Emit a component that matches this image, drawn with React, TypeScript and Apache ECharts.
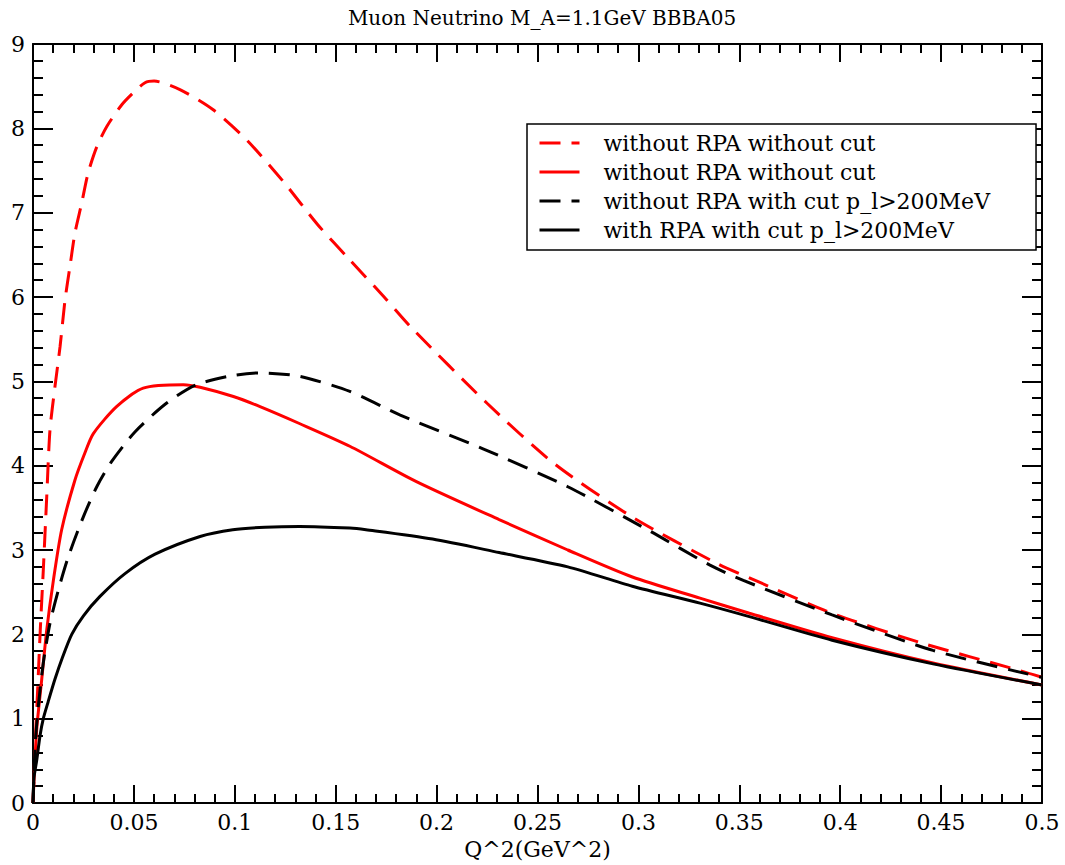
import React, { useEffect, useRef } from "react";
import * as echarts from "echarts";

const TITLE = "Muon Neutrino M_A=1.1GeV BBBA05";
const X_NAME = "Q^2(GeV^2)";
const LEGEND_LABELS = [
  "without RPA without cut",
  "without RPA without cut",
  "without RPA with cut p_l>200MeV",
  "with RPA with cut p_l>200MeV",
];
const SERIES_IDS = ["noRpaNoCutDashed", "noRpaNoCutSolid", "noRpaCutDashed", "rpaCutSolid"];

// [Q^2, value]
const redDashed: number[][] = [
  [0, 0], [0.001, 0.66], [0.0023, 1.34], [0.0036, 2.05], [0.0051, 2.76], [0.0068, 3.63],
  [0.0084, 4.42], [0.0109, 4.94], [0.0134, 5.41], [0.0159, 5.97], [0.0183, 6.36],
  [0.0208, 6.76], [0.0241, 7.11], [0.0273, 7.47], [0.0316, 7.78], [0.0365, 8.02],
  [0.044, 8.28], [0.0496, 8.42], [0.0555, 8.54], [0.06, 8.56], [0.0728, 8.46],
  [0.0893, 8.22], [0.106, 7.86], [0.124, 7.37], [0.141, 6.86], [0.157, 6.44],
  [0.174, 6.0], [0.187, 5.65], [0.225, 4.74], [0.258, 4.03], [0.297, 3.39],
  [0.339, 2.84], [0.355, 2.67], [0.396, 2.25], [0.44, 1.9], [0.489, 1.57], [0.5, 1.49],
];
const redSolid: number[][] = [
  [0, 0], [0.0018, 0.86], [0.0043, 1.46], [0.0068, 2.05], [0.0101, 2.64], [0.0142, 3.24],
  [0.0208, 3.83], [0.0257, 4.15], [0.0299, 4.38], [0.0414, 4.7], [0.0546, 4.92],
  [0.0745, 4.96], [0.0828, 4.93], [0.0993, 4.82], [0.1125, 4.7], [0.132, 4.5],
  [0.157, 4.23], [0.19, 3.81], [0.231, 3.36], [0.265, 3.0], [0.297, 2.68],
  [0.3305, 2.43], [0.355, 2.25], [0.396, 1.96], [0.446, 1.66], [0.5, 1.4],
];
const blackDashed: number[][] = [
  [0, 0], [0.001, 0.66], [0.0026, 1.14], [0.0051, 1.66], [0.0084, 2.13], [0.0125, 2.52],
  [0.0175, 2.92], [0.0249, 3.39], [0.0316, 3.75], [0.039, 4.05], [0.0505, 4.4],
  [0.0661, 4.74], [0.081, 4.96], [0.0993, 5.07], [0.1125, 5.1], [0.132, 5.06],
  [0.157, 4.88], [0.182, 4.6], [0.223, 4.2], [0.265, 3.75], [0.306, 3.22],
  [0.3355, 2.82], [0.352, 2.64], [0.396, 2.23], [0.446, 1.81], [0.5, 1.49],
];
const blackSolid: number[][] = [
  [0, 0], [0.0005, 0.3], [0.0018, 0.5], [0.0035, 0.8], [0.0051, 1.0], [0.0075, 1.2],
  [0.0109, 1.47], [0.0145, 1.72], [0.0192, 2.0], [0.025, 2.22], [0.0332, 2.45],
  [0.0456, 2.72], [0.0605, 2.95], [0.0828, 3.16], [0.099, 3.24], [0.115, 3.27],
  [0.132, 3.28], [0.157, 3.26], [0.165, 3.24], [0.198, 3.13], [0.231, 2.97],
  [0.265, 2.8], [0.297, 2.57], [0.3305, 2.37], [0.355, 2.21], [0.396, 1.93],
  [0.446, 1.65], [0.5, 1.4],
];

const X_MIN = 0, X_MAX = 0.5, X_STEP = 0.05;
const Y_MIN = 0, Y_MAX = 9, Y_STEP = 1;

const FONT = "DejaVu Serif";

export default function App() {
  const ref = useRef<HTMLDivElement>(null);
  useEffect(() => {
    document.body.style.margin = "0";
    if (!ref.current) return;
    const chart = echarts.init(ref.current, undefined, { renderer: "svg" });
    const axisLine = { show: true, onZero: false, lineStyle: { color: "#000", width: 2 } };
    const xTick = { show: true, inside: true, length: 18, lineStyle: { color: "#000", width: 2 } };
    const xMinor = { show: true, splitNumber: 5, length: 9, lineStyle: { color: "#000", width: 2 } };
    const yTick = { show: true, inside: true, length: 20, lineStyle: { color: "#000", width: 2 } };
    const yMinor = { show: true, splitNumber: 5, length: 10, lineStyle: { color: "#000", width: 2 } };
    const labelStyle = { color: "#000", fontFamily: FONT, fontSize: 22 };
    const mk = (id: string, data: number[][], color: string, dashed: boolean) => ({
      id,
      name: id,
      type: "line",
      data,
      symbol: "none",
      showSymbol: false,
      smooth: 0.25,
      lineStyle: { color, width: 3, type: dashed ? [21, 11] : "solid" },
      itemStyle: { color },
    });
    const labelMap: Record<string, string> = {};
    SERIES_IDS.forEach((id, i) => (labelMap[id] = LEGEND_LABELS[i]));
    chart.setOption({
      animation: false,
      backgroundColor: "#fff",
      title: {
        text: TITLE,
        left: 537,
        textAlign: "center",
        top: 3,
        textStyle: { fontFamily: FONT, fontSize: 20, fontWeight: "normal", color: "#000" },
      },
      legend: {
        orient: "vertical",
        left: 527,
        top: 124,
        data: SERIES_IDS,
        formatter: (n: string) => labelMap[n] ?? n,
        itemWidth: 40,
        itemHeight: 22,
        itemGap: 7,
        padding: [8, 46, 9, 11],
        borderColor: "#000",
        borderWidth: 1.5,
        backgroundColor: "#fff",
        selectedMode: false,
        itemStyle: { opacity: 0, borderWidth: 0 },
        lineStyle: { width: 3 },
        textStyle: { ...labelStyle, fontSize: 22, padding: [0, 0, 0, 19] },
      },
      grid: { left: 33, right: 23, top: 44, bottom: 62, containLabel: false },
      xAxis: [
        {
          type: "value",
          min: X_MIN,
          max: X_MAX,
          interval: X_STEP,
          name: X_NAME,
          nameLocation: "middle",
          nameGap: 35,
          nameTextStyle: { ...labelStyle, fontSize: 22 },
          axisLine,
          axisTick: xTick,
          minorTick: xMinor,
          splitLine: { show: false },
          axisLabel: { ...labelStyle, margin: 8 },
        },
        {
          type: "value",
          position: "top",
          min: X_MIN,
          max: X_MAX,
          interval: X_STEP,
          axisLine,
          axisTick: xTick,
          minorTick: xMinor,
          splitLine: { show: false },
          axisLabel: { show: false },
        },
      ],
      yAxis: [
        {
          type: "value",
          min: Y_MIN,
          max: Y_MAX,
          interval: Y_STEP,
          axisLine,
          axisTick: yTick,
          minorTick: yMinor,
          splitLine: { show: false },
          axisLabel: { ...labelStyle, margin: 8 },
        },
        {
          type: "value",
          position: "right",
          min: Y_MIN,
          max: Y_MAX,
          interval: Y_STEP,
          axisLine,
          axisTick: yTick,
          minorTick: yMinor,
          splitLine: { show: false },
          axisLabel: { show: false },
        },
      ],
      series: [
        mk(SERIES_IDS[0], redDashed, "#ff0000", true),
        mk(SERIES_IDS[1], redSolid, "#ff0000", false),
        mk(SERIES_IDS[2], blackDashed, "#000000", true),
        mk(SERIES_IDS[3], blackSolid, "#000000", false),
      ],
    });
    return () => chart.dispose();
  }, []);
  return <div ref={ref} style={{ width: 1065, height: 865 }} />;
}
